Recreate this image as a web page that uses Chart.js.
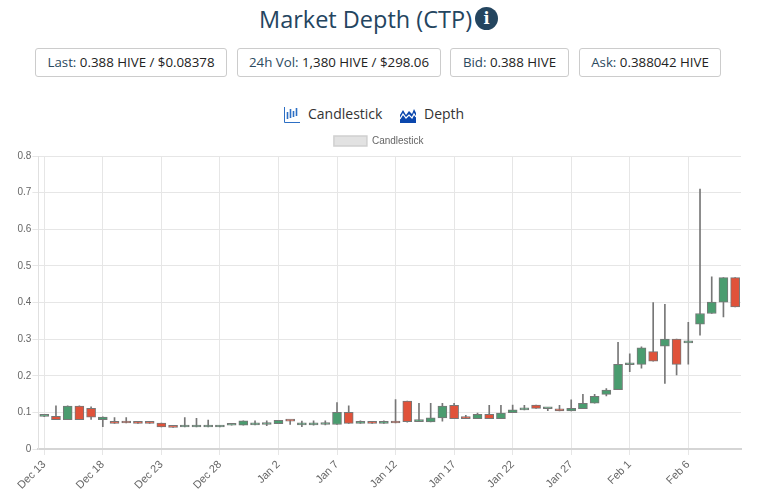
<!DOCTYPE html>
<html>
<head>
<meta charset="utf-8">
<title>Market Depth (CTP)</title>
<script src="https://cdn.jsdelivr.net/npm/chart.js@4"></script>
<style>
    body { margin: 0; background: #fff; width: 768px; height: 494px; overflow: hidden; position: relative; font-family: "Open Sans", sans-serif; }
    h1 { position: absolute; left: 259px; top: 3px; margin: 0; font-size: 23.5px; line-height: 32px; font-weight: 400; color: #24455f; white-space: nowrap; }
    .info { position: absolute; left: 475px; top: 7px; width: 23px; height: 23px; border-radius: 50%; background: #24455f; color: #fff; font: bold 16px/23px "DejaVu Serif", serif; text-align: center; }
    .stat { position: absolute; top: 48px; height: 27px; line-height: 27px; border: 1px solid #ccc; border-radius: 3px; text-align: center; font-size: 13.3px; color: #2c4a60; white-space: nowrap; box-sizing: content-box; }
    .stat b { font-weight: 400; color: #222; }
    .tab { position: absolute; top: 103px; font-size: 14px; line-height: 22px; color: #333; white-space: nowrap; }
    svg { position: absolute; }
    #can { position: absolute; left: 0; top: 127px; }
</style>
</head>
<body>
<h1>Market Depth (CTP)</h1>
<div class="info">i</div>
<div class="stat" style="left:35px;width:190px">Last: <b>0.388 HIVE / $0.08378</b></div>
<div class="stat" style="left:237px;width:202px">24h Vol: <b>1,380 HIVE / $298.06</b></div>
<div class="stat" style="left:450px;width:117px">Bid: <b>0.388 HIVE</b></div>
<div class="stat" style="left:579px;width:140px">Ask: <b>0.388042 HIVE</b></div>

<svg style="left:284px;top:107px" width="16" height="16" viewBox="0 0 16 16">
    <path d="M0.5 0V15.5H16" fill="none" stroke="#2d6fc4" stroke-width="1"/>
    <path d="M3.5 5V12M6.5 2V11M9.5 4V10M12.5 1V9" stroke="#2d6fc4" stroke-width="1.6"/>
</svg>
<div class="tab" style="left:308px">Candlestick</div>
<svg style="left:400px;top:107px" width="16" height="16" viewBox="0 0 16 16">
    <path d="M0 16V8L3 3L6 8L9 4L12 7L14 2L16 6V16Z" fill="#0b47ad"/>
    <path d="M0 12L3 7L6 11L9 8L12 11L14 7L16 10" fill="none" stroke="#fff" stroke-width="1.2"/>
</svg>
<div class="tab" style="left:424px">Depth</div>

<canvas id="can" width="768" height="368"></canvas>

<script>
    var dates = [
        'Dec 13','Dec 14','Dec 15','Dec 16','Dec 17','Dec 18','Dec 19','Dec 20','Dec 21','Dec 22',
        'Dec 23','Dec 24','Dec 25','Dec 26','Dec 27','Dec 28','Dec 29','Dec 30','Dec 31','Jan 1',
        'Jan 2','Jan 3','Jan 4','Jan 5','Jan 6','Jan 7','Jan 8','Jan 9','Jan 10','Jan 11',
        'Jan 12','Jan 13','Jan 14','Jan 15','Jan 16','Jan 17','Jan 18','Jan 19','Jan 20','Jan 21',
        'Jan 22','Jan 23','Jan 24','Jan 25','Jan 26','Jan 27','Jan 28','Jan 29','Jan 30','Jan 31',
        'Feb 1','Feb 2','Feb 3','Feb 4','Feb 5','Feb 6','Feb 7','Feb 8','Feb 9','Feb 10'
    ];
    var opens = [
        .089,.089,.080,.117,.111,.080,.072,.072,.073,.072,
        .071,.060,.060,.060,.060,.060,.065,.065,.066,.067,
        .069,.077,.066,.066,.067,.067,.100,.070,.075,.070,
        .075,.131,.075,.074,.085,.119,.084,.083,.095,.083,
        .099,.107,.120,.110,.110,.104,.110,.125,.149,.162,
        .230,.231,.266,.281,.300,.290,.341,.370,.401,.468
    ];
    var closes = [
        .089,.080,.117,.080,.087,.087,.070,.071,.070,.070,
        .060,.059,.060,.060,.060,.060,.065,.077,.066,.067,
        .078,.076,.066,.066,.067,.100,.070,.075,.070,.070,
        .071,.075,.076,.085,.117,.083,.083,.095,.083,.098,
        .107,.111,.111,.112,.104,.111,.125,.144,.161,.231,
        .230,.276,.240,.300,.231,.290,.370,.401,.468,.388
    ];
    var highs = [
        .090,.118,.118,.118,.115,.088,.086,.086,.073,.072,
        .071,.060,.086,.084,.079,.063,.066,.077,.077,.077,
        .078,.078,.076,.077,.077,.127,.118,.077,.075,.077,
        .135,.131,.125,.125,.125,.125,.092,.098,.119,.119,
        .120,.119,.120,.112,.119,.134,.149,.149,.165,.291,
        .260,.279,.400,.395,.300,.346,.710,.470,.468,.468
    ];
    var lows = [
        .088,.080,.080,.080,.081,.061,.070,.071,.070,.070,
        .060,.059,.060,.060,.060,.060,.065,.065,.066,.064,
        .069,.067,.061,.065,.066,.067,.070,.070,.070,.070,
        .071,.073,.075,.074,.076,.083,.083,.083,.083,.083,
        .099,.107,.111,.105,.104,.104,.110,.125,.145,.162,
        .211,.221,.240,.179,.202,.232,.311,.370,.361,.388
    ];
    var yTicks = [0, 0.1, 0.2, 0.3, 0.4, 0.5, 0.6, 0.7, 0.8];

    var bodies = [];
    var wicks = [];
    var bodyColors = [];
    for (var i = 0; i < dates.length; i++) {
        bodies.push([opens[i], closes[i]]);
        wicks.push([lows[i], highs[i]]);
        bodyColors.push(closes[i] >= opens[i] ? '#4a9c6f' : '#e0523a');
    }

    var chartdata = {
        labels: dates,
        datasets: [
            {
                label: 'Candlestick',
                data: bodies,
                backgroundColor: bodyColors,
                borderColor: '#777',
                borderWidth: 1,
                borderSkipped: false,
                barThickness: 9,
                minBarLength: 2,
                grouped: false,
                order: 1
            },
            {
                label: 'Wick',
                data: wicks,
                backgroundColor: '#777',
                barThickness: 1,
                grouped: false,
                order: 2
            }
        ]
    };

    var ctx = document.getElementById('can').getContext('2d');

    window.myBar = new Chart(ctx, {
        type: 'bar',
        data: chartdata,
        options: {
            responsive: false,
            animation: false,
            layout: { padding: { left: 16.5, right: 27, top: 0, bottom: 0 } },
            plugins: {
                tooltip: { enabled: false },
                legend: {
                    display: true,
                    labels: {
                        boxWidth: 33,
                        boxHeight: 10,
                        padding: 9,
                        font: { size: 10, family: 'Liberation Sans' },
                        color: '#666',
                        generateLabels: function () {
                            return [{ text: 'Candlestick', fillStyle: '#e2e2e2', strokeStyle: '#d0d0d0', fontColor: '#666', lineWidth: 1.5, datasetIndex: 0 }];
                        }
                    }
                }
            },
            scales: {
                x: {
                    offset: true,
                    afterBuildTicks: function (axis) {
                        axis.ticks = axis.ticks.filter(function (t) { return t.value % 5 === 0; });
                    },
                    grid: { offset: false, color: '#e6e6e6', tickLength: 6 },
                    border: { color: '#d5d5d5', width: 2 },
                    ticks: {
                        autoSkip: false,
                        maxRotation: 45,
                        minRotation: 45,
                        color: '#666',
                        font: { size: 11, family: 'Liberation Sans' },
                        callback: function (value) { return dates[value]; }
                    }
                },
                y: {
                    min: 0,
                    max: 0.8,
                    afterBuildTicks: function (axis) {
                        axis.ticks = yTicks.map(function (v) { return { value: v }; });
                    },
                    grid: { color: '#e6e6e6', tickLength: 6 },
                    border: { color: '#e0e0e0' },
                    ticks: {
                        padding: 1,
                        color: '#666',
                        font: { size: 10, family: 'Liberation Sans' },
                        callback: function (value) { return String(value); }
                    }
                }
            }
        }
    });
</script>
</body>
</html>
